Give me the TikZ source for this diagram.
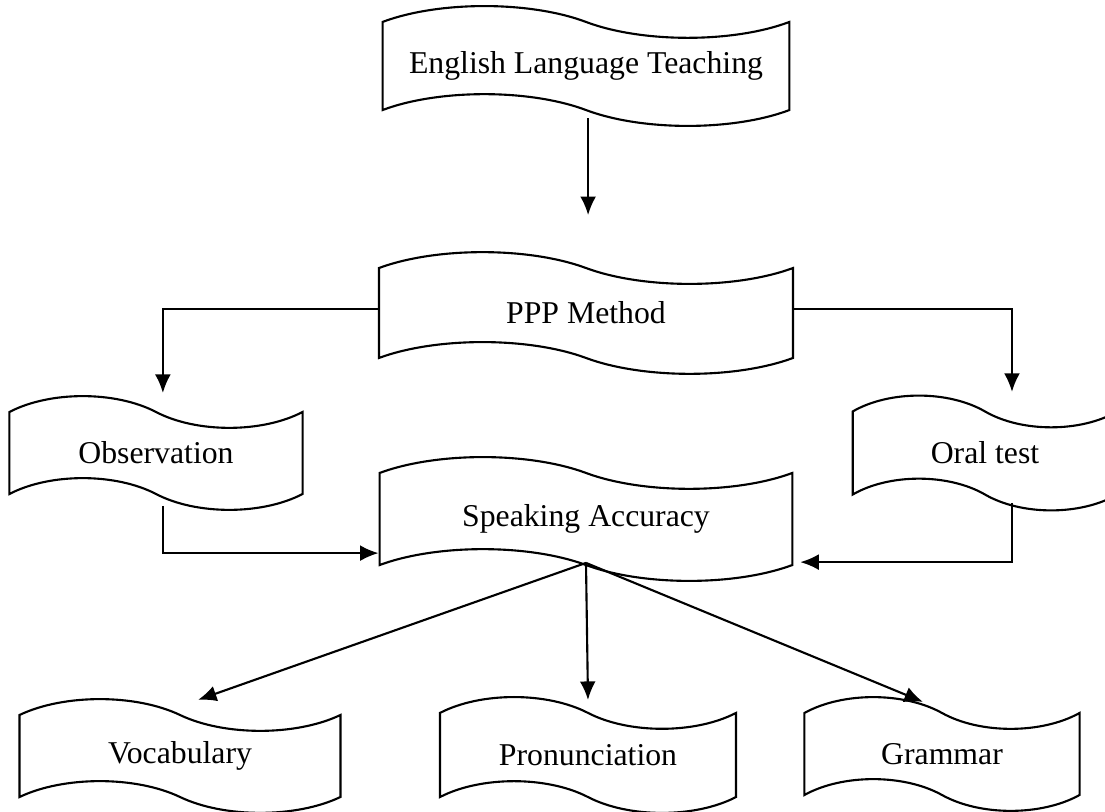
\documentclass[tikz,border=0pt]{standalone}
\usepackage{fontspec}
\setmainfont{Liberation Serif}
\usepackage{tikz}
\usetikzlibrary{positioning}
\usetikzlibrary{arrows.meta, shapes.symbols}

\begin{document}
\begin{tikzpicture}[x=0.378pt, y=-0.378pt,
  main/.style = {draw, tape, tape bend top=out and in, tape bend bottom=out and in,
    tape bend height=12pt, inner sep=0pt, font=\fontsize{12}{14.4}\selectfont},
  >={Latex[length=7pt,width=6pt]}, line width=0.8pt]
\useasboundingbox (0,0) rectangle (1105,812);
\node[main, minimum width=153.8pt, minimum height=45.3pt] (elt) at (586,66) {English Language Teaching};
\node[main, minimum width=156.5pt, minimum height=46pt] (ppp) at (586,313) {PPP Method};
\node[main, minimum width=110.8pt, minimum height=43pt] (obs) at (156,453) {Observation};
\node[main, minimum width=100pt, minimum height=43.4pt] (oral) at (985,453) {Oral test};
\node[main, minimum width=156pt, minimum height=46.8pt] (sa) at (586,519) {Speaking Accuracy};
\node[main, minimum width=121.3pt, minimum height=43pt] (voc) at (180,756) {Vocabulary};
\node[main, minimum width=111.9pt, minimum height=43.8pt] (pron) at (588,755) {Pronunciation};
\node[main, minimum width=104pt, minimum height=43pt] (gram) at (942,754) {Grammar};
\draw[->] ([xshift=0.8pt, yshift=-19.7pt]elt.center) -- ([xshift=0.8pt, yshift=37pt]ppp.center);
\draw[->] ([yshift=1.5pt]ppp.west) -| ([xshift=2.6pt, yshift=22.7pt]obs.center);
\draw[->] ([yshift=1.5pt]ppp.east) -| ([xshift=10.2pt, yshift=23.1pt]oral.center);
\draw[->] ([xshift=2.6pt, yshift=-20pt]obs.center) |- ([yshift=-12.9pt]sa.west);
\draw[->] ([xshift=10.2pt, yshift=-18.9pt]oral.center) |- ([xshift=2.6pt, yshift=-16.3pt]sa.east);
\draw[->] ([yshift=-16.6pt]sa.center) -- ([xshift=6.8pt, yshift=21.2pt]voc.center);
\draw[->] ([yshift=-16.6pt]sa.center) -- ([yshift=20.8pt]pron.center);
\draw[->] ([yshift=-16.6pt]sa.center) -- ([xshift=-7.2pt, yshift=19.7pt]gram.center);
\end{tikzpicture}
\end{document}
